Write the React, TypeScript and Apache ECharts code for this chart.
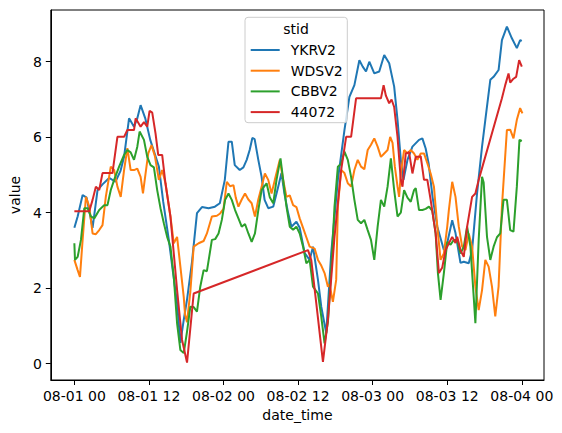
import React, { useEffect, useRef } from "react";
import * as echarts from "echarts";

// x values are hours after 08-01 00
const xTickHours = [0, 12, 24, 36, 48, 60, 72];
const xTickLabels = ["08-01 00", "08-01 12", "08-02 00", "08-02 12", "08-03 00", "08-03 12", "08-04 00"];
const yTicks = [0, 2, 4, 6, 8];
const seriesNames = ["YKRV2", "WDSV2", "CBBV2", "44072"];
const seriesColors = ["#1f77b4", "#ff7f0e", "#2ca02c", "#d62728"];

const ykrv2 = [
  [0, 3.6], [0.53, 3.9], [1.33, 4.47], [1.97, 4.4], [2.93, 3.6], [3.73, 4.6], [4.53, 4.75], [5.6, 4.92],
  [6.61, 4.82], [7.41, 5.1], [8.0, 5.48], [8.8, 6.5], [9.6, 6.28], [10.13, 6.5], [10.66, 6.85], [11.41, 6.5],
  [12.21, 5.93], [13.6, 5.22], [14.29, 4.3], [15.2, 3.28], [15.89, 2.4], [16.53, 1.6], [17.06, 0.55],
  [17.6, 1.16], [18.13, 1.7], [18.93, 2.7], [19.73, 3.99], [20.53, 4.15], [21.6, 4.12], [22.61, 4.16],
  [23.41, 4.25], [24.21, 4.87], [24.8, 5.88], [25.33, 5.88], [25.81, 5.26], [26.61, 5.13], [27.2, 5.2],
  [27.73, 5.4], [28.21, 5.66], [28.64, 5.98], [29.01, 5.95], [29.6, 5.4], [30.13, 4.95], [30.61, 4.34],
  [31.2, 4.12], [32.0, 4.16], [32.8, 4.69], [33.33, 5.05], [33.81, 4.5], [34.4, 3.99], [34.93, 3.63],
  [35.73, 3.76], [36.26, 3.6], [37.06, 2.93], [37.86, 2.75], [38.4, 3.1], [39.2, 2.22], [39.73, 1.51],
  [40.53, 0.81], [41.33, 2.93], [42.4, 4.87], [43.46, 6.19], [44.26, 7.07], [45.06, 7.38], [45.86, 8.04],
  [46.4, 7.87], [46.93, 7.74], [47.46, 8.0], [48.26, 7.69], [49.06, 7.74], [49.86, 8.18], [50.66, 7.96],
  [51.46, 7.34], [52.0, 6.46], [52.53, 5.4], [52.96, 4.87], [53.6, 5.4], [54.4, 5.75], [55.46, 5.93],
  [56.0, 5.97], [56.53, 5.7], [57.01, 5.3], [57.65, 4.4], [58.4, 3.63], [59.46, 3.01], [60.0, 3.2],
  [60.8, 3.8], [61.33, 3.46], [62.13, 2.67], [62.66, 2.7], [63.46, 2.66], [64.0, 3.01], [64.8, 4.52],
  [65.6, 5.75], [66.13, 6.46], [66.93, 7.52], [67.46, 7.6], [68.26, 7.78], [68.8, 8.57], [69.6, 8.93],
  [70.4, 8.62], [71.2, 8.36], [71.73, 8.57], [72.0, 8.55],
];

const wdsv2 = [
  [0, 2.75], [0.53, 2.48], [0.9, 2.3], [1.33, 3.28], [1.86, 4.42], [2.4, 4.16], [2.93, 3.45], [3.46, 3.43],
  [4.0, 3.54], [4.53, 3.67], [5.06, 4.42], [5.86, 5.22], [6.4, 5.13], [6.93, 4.69], [7.46, 4.42], [8.0, 5.13],
  [8.53, 5.71], [9.06, 5.13], [9.6, 5.13], [10.13, 5.17], [10.66, 4.95], [11.04, 4.51], [11.46, 5.04],
  [11.89, 5.57], [12.42, 5.79], [12.96, 5.5], [13.6, 4.87], [14.13, 5.13], [14.66, 4.78], [15.46, 3.9],
  [16.0, 3.19], [16.53, 3.36], [17.06, 2.57], [17.6, 1.77], [17.81, 1.3], [18.13, 1.1], [18.66, 1.9],
  [19.2, 3.1], [20.0, 3.19], [20.8, 3.25], [21.33, 3.45], [22.13, 3.9], [22.93, 3.92], [23.46, 3.98],
  [24.0, 4.1], [24.53, 4.82], [25.06, 4.7], [25.6, 4.73], [25.97, 4.4], [26.4, 4.16], [26.93, 4.35],
  [27.46, 4.51], [28.0, 4.35], [28.53, 4.25], [29.06, 3.9], [29.6, 4.35], [30.13, 4.69], [30.66, 5.04],
  [31.2, 4.87], [31.73, 4.51], [32.26, 4.87], [33.06, 5.4], [33.6, 4.87], [34.13, 4.42], [34.66, 4.46],
  [35.2, 4.2], [35.73, 4.15], [36.26, 3.85], [36.8, 3.6], [37.33, 3.35], [37.86, 3.1], [38.66, 3.05],
  [39.2, 2.75], [39.73, 2.6], [40.26, 2.4], [40.8, 2.04], [41.06, 2.1], [41.6, 1.64], [42.13, 2.22],
  [42.4, 4.16], [42.93, 5.13], [43.46, 5.05], [44.0, 4.78], [44.53, 4.69], [45.06, 5.13], [45.6, 5.4],
  [46.13, 5.22], [46.66, 5.15], [47.2, 5.66], [47.73, 5.8], [48.26, 5.97], [48.8, 5.75], [49.33, 5.48],
  [49.86, 5.57], [50.4, 5.66], [50.82, 6.01], [51.2, 5.85], [51.57, 5.22], [52.0, 4.69], [52.26, 4.42],
  [52.53, 5.04], [53.06, 5.66], [53.6, 5.57], [54.13, 5.66], [54.66, 5.57], [55.2, 5.4], [55.73, 5.57],
  [56.26, 5.57], [56.8, 5.31], [57.33, 5.04], [57.86, 4.69], [58.4, 3.63], [58.93, 2.75], [59.46, 2.92],
  [60.0, 3.63], [60.26, 4.07], [60.8, 4.82], [61.33, 4.42], [61.86, 3.63], [62.4, 3.1], [62.93, 3.01],
  [63.46, 3.45], [64.0, 3.1], [64.53, 2.04], [65.06, 1.42], [65.6, 1.95], [66.13, 2.75], [66.66, 2.57],
  [67.2, 2.04], [67.73, 1.25], [68.26, 2.04], [68.8, 4.16], [69.6, 6.19], [70.13, 6.2], [70.66, 5.97],
  [71.2, 6.46], [71.73, 6.77], [72.1, 6.63],
];

const cbbv2 = [
  [0, 3.19], [0.1, 2.75], [0.53, 2.83], [1.06, 3.28], [1.6, 4.12], [2.13, 4.12], [2.66, 3.9], [3.2, 3.85],
  [4.0, 4.07], [4.8, 4.2], [5.33, 4.2], [5.86, 4.6], [6.4, 4.87], [7.2, 5.22], [8.0, 5.53], [8.53, 5.66],
  [9.06, 5.6], [9.6, 5.4], [10.13, 5.75], [10.5, 6.15], [11.2, 5.93], [11.73, 5.48], [12.26, 5.26],
  [12.8, 5.2], [13.33, 4.6], [13.86, 4.12], [14.4, 3.72], [14.93, 3.36], [15.46, 3.1], [16.0, 2.3],
  [16.53, 1.07], [17.06, 0.36], [17.6, 0.28], [18.13, 0.85], [18.66, 1.51], [19.2, 1.5], [19.73, 1.38],
  [20.26, 2.04], [20.8, 2.48], [21.33, 2.45], [22.13, 3.28], [22.66, 3.3], [23.2, 3.45], [23.73, 3.81],
  [24.26, 4.34], [24.8, 4.51], [25.33, 4.34], [25.86, 4.07], [26.4, 3.85], [26.93, 3.63], [27.46, 3.7],
  [28.0, 3.45], [28.53, 3.23], [29.06, 3.45], [29.6, 4.07], [30.13, 4.6], [30.93, 4.78], [31.46, 4.4],
  [32.0, 4.25], [32.53, 4.87], [33.17, 5.44], [33.6, 4.87], [34.13, 4.16], [34.66, 3.63], [35.2, 3.55],
  [35.73, 3.63], [36.26, 3.45], [36.8, 3.1], [37.33, 2.66], [37.86, 2.75], [38.4, 2.04], [39.2, 1.86],
  [39.73, 1.25], [40.26, 0.54], [40.8, 1.1], [41.33, 2.48], [41.86, 4.16], [42.4, 5.22], [42.93, 5.3],
  [43.46, 5.62], [44.0, 5.4], [44.53, 4.95], [45.06, 4.34], [45.6, 3.81], [46.13, 3.72], [46.66, 3.81],
  [47.2, 3.54], [47.73, 3.28], [48.26, 2.75], [48.8, 3.63], [49.33, 4.34], [49.86, 4.16], [50.4, 4.69],
  [50.93, 5.44], [51.46, 4.6], [52.0, 3.9], [52.53, 4.0], [53.06, 4.6], [53.6, 4.4], [54.13, 4.29],
  [54.66, 4.6], [54.93, 4.65], [55.46, 4.07], [56.0, 4.07], [56.53, 4.1], [57.06, 4.16], [57.6, 4.05],
  [58.13, 3.45], [58.5, 2.4], [58.93, 1.69], [59.46, 2.4], [60.0, 3.23], [60.53, 3.15], [61.06, 3.28],
  [61.6, 3.28], [62.13, 2.92], [62.66, 3.1], [63.2, 3.63], [63.73, 3.1], [64.26, 1.77], [64.53, 1.07],
  [65.06, 3.28], [65.6, 4.95], [65.86, 4.8], [66.4, 3.36], [66.93, 2.75], [67.46, 3.1], [68.0, 3.35],
  [68.53, 3.45], [69.06, 4.34], [69.6, 4.34], [70.13, 3.54], [70.66, 3.5], [71.2, 4.69], [71.62, 5.93],
  [72.0, 5.9],
];

const s44072 = [
  [0, 4.04], [2.4, 4.04], [2.93, 4.34], [3.46, 4.69], [4.0, 4.6], [4.53, 5.05], [6.13, 5.05], [6.93, 6.01],
  [8.0, 6.01], [8.53, 6.19], [9.6, 6.19], [9.86, 6.5], [10.66, 6.28], [11.2, 6.4], [11.73, 6.28], [12.1, 6.7],
  [12.53, 6.65], [13.06, 6.1], [13.49, 5.53], [14.13, 5.53], [14.66, 4.78], [15.46, 3.9], [16.53, 1.95],
  [17.33, 0.63], [18.13, 0.03], [19.2, 1.86], [37.6, 3.01], [38.13, 2.74], [38.93, 1.6], [40.0, 0.05],
  [40.8, 1.16], [41.86, 3.36], [42.93, 5.13], [43.73, 6.01], [44.53, 6.01], [45.33, 7.03], [49.33, 7.03],
  [49.76, 7.38], [50.13, 7.1], [50.66, 6.9], [51.04, 7.0], [51.46, 6.8], [52.0, 6.01], [52.53, 4.87],
  [52.8, 4.69], [53.33, 5.57], [53.86, 5.6], [54.4, 5.04], [54.93, 5.48], [55.46, 5.48], [55.73, 5.5],
  [56.26, 4.87], [56.8, 4.87], [57.33, 4.34], [58.13, 3.46], [58.66, 2.4], [59.2, 2.55], [59.73, 3.01],
  [60.26, 3.19], [60.8, 3.36], [61.33, 3.2], [61.6, 3.36], [62.13, 3.01], [62.66, 2.83], [63.2, 3.63],
  [64.0, 4.42], [64.53, 4.51], [65.06, 4.87], [68.8, 7.03], [69.33, 7.38], [69.86, 7.69], [70.13, 7.45],
  [70.66, 7.55], [71.09, 7.6], [71.57, 8.04], [72.0, 7.87],
];

const seriesData = [ykrv2, wdsv2, cbbv2, s44072];

export default function App() {
  const ref = useRef<HTMLDivElement>(null);
  useEffect(() => {
    if (!ref.current) return;
    const chart = echarts.init(ref.current, undefined, { renderer: "svg" });
    const font = "DejaVu Sans";
    const option: any = {
      animation: false,
      backgroundColor: "#ffffff",
      textStyle: { fontFamily: font },
      grid: {
        left: 48,
        right: 18,
        top: 10,
        bottom: 53,
        show: true,
        borderColor: "#000",
        borderWidth: 1,
        backgroundColor: "transparent",
      },
      xAxis: {
        type: "value",
        min: -3.79,
        max: 75.57,
        name: "date_time",
        nameLocation: "middle",
        nameGap: 28,
        nameTextStyle: { fontSize: 14, color: "#000", fontFamily: font },
        axisLine: { show: true, onZero: false, lineStyle: { color: "#000", width: 1 } },
        axisTick: { show: true, length: 5, customValues: xTickHours, lineStyle: { color: "#000" } },
        axisLabel: {
          customValues: xTickHours,
          margin: 9,
          fontSize: 14,
          color: "#000",
          fontFamily: font,
          formatter: (v: number) => {
            const i = xTickHours.indexOf(Math.round(v));
            return i >= 0 ? xTickLabels[i] : "";
          },
        },
        splitLine: { show: false },
      },
      yAxis: {
        type: "value",
        min: -0.432,
        max: 9.37,
        name: "value",
        nameLocation: "middle",
        nameGap: 25,
        nameTextStyle: { fontSize: 14, color: "#000", fontFamily: font },
        axisLine: { show: true, onZero: false, lineStyle: { color: "#000", width: 1 } },
        axisTick: { show: true, length: 5, customValues: yTicks, lineStyle: { color: "#000" } },
        axisLabel: {
          customValues: yTicks,
          margin: 9,
          fontSize: 14,
          color: "#000",
          fontFamily: font,
          formatter: (v: number) => String(Math.round(v)),
        },
        splitLine: { show: false },
      },
      legend: {
        data: seriesNames,
        orient: "vertical",
        left: 250.7,
        top: 42,
        padding: 0,
        itemGap: 4.7,
        itemWidth: 29,
        itemHeight: 2,
        icon: "rect",
        z: 10,
        textStyle: { fontSize: 14, color: "#000", fontFamily: font, lineHeight: 16, padding: [0, 0, 0, 6] },
      },
      graphic: [
        {
          type: "rect",
          z: 9,
          shape: { x: 245, y: 17.3, width: 102.3, height: 105.4, r: 3 },
          style: { fill: "rgba(255,255,255,0.8)", stroke: "#cccccc", lineWidth: 1 },
        },
        {
          type: "text",
          z: 10,
          x: 296,
          y: 29.3,
          style: { text: "stid", fontSize: 14, fill: "#000", fontFamily: font, align: "center", verticalAlign: "middle" },
        },
      ],
      series: seriesNames.map((name, i) => ({
        name,
        type: "line",
        data: seriesData[i],
        showSymbol: false,
        symbol: "none",
        color: seriesColors[i],
        lineStyle: { width: 2, color: seriesColors[i] },
        z: 2 + i,
      })),
    };
    chart.setOption(option);
    return () => chart.dispose();
  }, []);
  return (
    <div
      ref={ref}
      style={{ position: "absolute", left: 0, top: 0, width: 562, height: 433 }}
    />
  );
}
